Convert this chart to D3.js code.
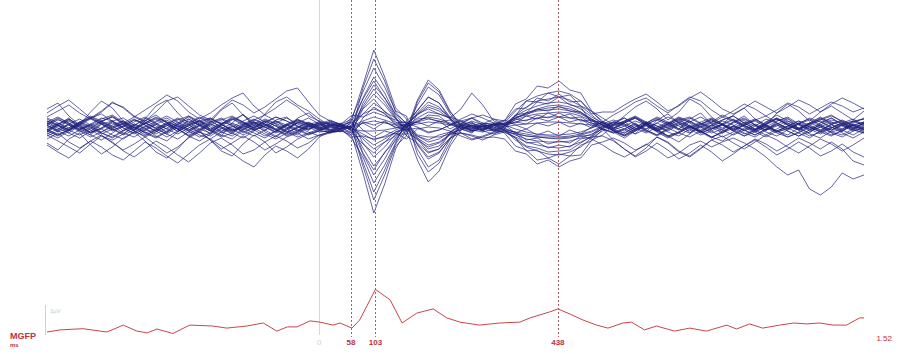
<!DOCTYPE html>
<html>
<head>
<meta charset="utf-8">
<script src="https://cdn.jsdelivr.net/npm/d3@7"></script>
<style>
  html, body { margin: 0; padding: 0; background: #fff; }
  svg { display: block; font-family: "Liberation Sans", Arial, sans-serif; }
</style>
</head>
<body>
<div id="chart"></div>
<script>
// Sample grid of the EEG traces (ms), one sample every 20 ms
const times = d3.range(-500, 1001, 20);

// Channel traces (µV, positive up)
const ch01 = [0.4,-0.3,0.8,0.2,-0.6,0.5,1.1,0.3,-0.4,0.6, 1.2,0.4,-0.5,0.8,0.1,-0.7,0.3,1.0,0.5,-0.2, 0.6,0.1,-0.6,0.9,1.4,0.5,
  -0.5,-0.4,0.8,4.2,7.7,5.0,1.9,0.8,-2.7,-4.5, -3.6,-1.6,0.3,0.5,-0.3,0.2,-0.3,-1.1,-2.4,-2.3, -3.1,-2.7,-2.9,-1.8,-1.4,-0.2,0.3,
  0.9,0.2,-0.5,0.7,1.3,0.4,-0.6,0.2,0.8,-0.3, 0.5,1.1,0.2,-0.4,0.6,0.9,-0.2,0.4,1.0,0.3, -0.5,0.6,0.8];
const ch02 = [-0.5,0.2,0.9,-0.1,-0.8,0.3,0.6,-0.4,0.1,0.9, 0.3,-0.6,0.2,1.1,0.6,-0.3,-0.9,0.4,1.3,0.2, -0.4,0.7,1.0,0.1,-0.3,0.6,
  -0.3,0.1,-0.3,3.9,6.8,4.6,1.5,0.3,-2.2,-4.0, -3.3,-1.2,0.1,0.6,0.2,-0.4,-0.5,-1.1,-1.9,-2.1, -2.5,-2.4,-2.3,-1.6,-0.9,-0.1,0.5,
  0.2,-0.7,0.4,1.0,0.5,-0.2,0.8,1.4,0.3,-0.5, 0.1,0.7,-0.3,0.5,1.2,0.6,-0.1,-0.6,0.4,0.9, 0.2,-0.3,0.5];
const ch03 = [1.8,2.4,1.1,0.2,1.5,2.6,1.9,0.6,-0.3,0.8, 2.1,2.7,1.4,0.3,-0.6,0.5,1.7,2.4,1.2,0.1, 1.3,2.5,3.0,2.2,1.6,0.8,
  0.1,-0.2,1.0,3.5,5.9,4.0,1.6,1.1,-1.8,-3.2, -2.6,-1.1,0.3,0.9,0.4,-0.2,-0.6,-1.9,-2.3,-3.3, -3.1,-3.7,-2.9,-2.8,-1.3,-0.8,0.2,
  1.1,2.0,2.6,1.8,0.7,1.5,2.8,2.2,1.0,0.3, 1.2,1.9,0.8,0.2,1.4,2.3,1.6,0.6,1.5,2.1, 1.4,0.7,1.6];
const ch04 = [-0.2,-0.8,-0.3,0.5,0.1,-0.6,-1.1,-0.4,0.3,-0.1, -0.9,-1.4,-0.5,0.2,0.7,-0.2,-0.8,-1.2,-0.3,0.4, -0.5,-1.0,-0.3,0.5,0.2,-0.3,
  -0.6,-0.4,0.1,2.9,5.0,3.4,1.2,0.0,-1.7,-3.0, -2.5,-1.2,-0.3,0.2,-0.4,-0.7,-0.3,-0.8,-1.2,-1.4, -1.5,-1.5,-1.4,-1.1,-0.7,-0.2,-0.5,
  -1.1,-0.4,0.3,-0.2,-0.9,-1.5,-0.7,0.1,-0.4,-1.0, -0.5,0.2,-0.3,-0.8,-0.2,0.4,-0.1,-0.7,-1.1,-0.4, 0.2,-0.3,-0.6];
const ch05 = [-1.6,-2.3,-1.2,-0.6,-1.8,-2.7,-2.0,-1.1,-0.5,-1.4, -2.5,-3.1,-2.2,-1.0,-0.4,-1.3,-2.4,-2.9,-1.7,-0.8, -1.5,-2.6,-2.0,-1.2,-0.7,-0.4,
  -0.5,-0.3,-0.6,2.4,4.2,2.9,1.0,-0.9,-1.6,-2.6, -2.2,-1.1,-0.6,-0.9,-1.3,-0.8,-0.5,-1.0,-1.5,-1.8, -2.0,-2.1,-1.9,-1.5,-1.0,-0.9,-1.4,
  -2.2,-2.9,-2.1,-1.0,-1.6,-2.5,-3.0,-2.2,-1.3,-0.9, -1.6,-2.2,-1.5,-0.8,-1.3,-2.0,-2.6,-1.9,-1.2,-1.7, -2.4,-1.8,-1.1];
const ch06 = [0.6,0.1,-0.4,0.3,0.9,0.4,-0.2,-0.7,0.2,0.7, 0.1,-0.5,0.4,1.0,0.3,-0.3,0.5,0.2,-0.6,-0.1, 0.7,0.3,-0.4,-0.8,0.1,0.4,
  0.0,-0.2,0.1,1.9,3.3,2.2,0.8,0.0,-0.9,-1.5, -1.2,-0.5,0.1,0.4,0.0,-0.3,-0.2,-0.5,-0.7,-0.9, -0.9,-1.0,-0.9,-0.7,-0.4,0.1,0.5,
  0.3,-0.3,0.2,0.8,0.4,-0.2,-0.6,0.1,0.6,0.2, -0.4,0.3,0.7,0.1,-0.5,-0.2,0.4,0.8,0.2,-0.3, 0.3,0.6,0.1];
const ch07 = [-0.7,-0.2,0.3,-0.4,-1.0,-0.5,0.2,0.6,-0.1,-0.8, -0.3,0.4,-0.2,-0.9,-0.4,0.3,-0.1,-0.7,0.2,0.5, -0.3,-0.9,-0.2,0.4,0.0,-0.5,
  -0.4,-0.1,0.0,1.3,2.4,1.6,0.5,-0.1,-1.1,-1.8, -1.5,-0.7,-0.1,0.2,-0.2,-0.4,0.0,0.2,0.3,0.4, 0.5,0.5,0.4,0.3,0.2,-0.2,-0.6,
  -0.2,0.4,-0.3,-0.8,-0.1,0.5,0.1,-0.6,-0.2,0.3, -0.4,-0.9,-0.3,0.2,-0.5,0.1,0.6,0.0,-0.5,-0.1, 0.4,-0.2,-0.6];
const ch08 = [1.0,1.6,2.2,1.4,0.8,1.5,2.4,2.0,1.1,0.6, 1.5,2.6,3.0,2.1,1.2,0.7,1.8,2.7,2.2,1.4, 2.0,2.8,3.6,3.9,2.5,1.2,
  0.6,0.3,1.2,1.0,1.5,1.1,0.7,0.4,0.0,-0.5, -0.3,0.2,0.8,1.3,0.9,0.4,0.2,-0.2,-0.5,-0.7, -0.8,-0.8,-0.7,-0.5,-0.1,0.5,1.2,
  1.8,2.5,2.9,2.1,1.4,2.2,3.0,2.6,1.7,1.0, 1.6,2.3,1.8,1.1,1.7,2.4,2.0,1.3,1.9,2.5, 2.1,1.5,1.9];
const ch09 = [0.2,0.7,0.3,-0.3,0.1,0.6,1.0,0.4,-0.2,0.3, 0.8,0.2,-0.4,0.1,0.6,0.9,0.3,-0.3,0.0,0.5, 0.2,-0.5,0.1,0.6,0.3,-0.1,
  0.2,0.1,0.0,0.4,0.6,0.4,0.2,0.1,0.3,0.5, 0.4,0.2,0.0,-0.2,0.1,0.3,0.2,0.5,0.7,0.9, 1.0,1.0,0.9,0.7,0.4,0.1,-0.3,
  0.1,0.6,0.2,-0.4,0.0,0.5,0.9,0.3,-0.2,0.2, 0.7,0.1,-0.3,0.4,0.8,0.2,-0.2,0.3,0.6,0.0, -0.4,0.2,0.5];
const ch10 = [-0.3,0.2,-0.6,-1.1,-0.4,0.3,-0.2,-0.8,-0.3,0.4, -0.1,-0.7,-1.2,-0.5,0.2,-0.4,-1.0,-0.6,0.1,-0.3, -0.9,-0.4,0.3,-0.2,-0.7,-0.3,
  0.0,-0.1,-0.2,-0.4,-0.4,-0.3,-0.1,0.1,0.5,0.8, 0.6,0.3,-0.1,-0.4,-0.2,0.1,0.3,0.9,1.4,1.7, 1.9,2.0,1.8,1.4,0.8,0.2,-0.4,
  -0.8,-0.2,0.4,-0.3,-0.9,-0.5,0.2,-0.4,-1.0,-0.6, 0.1,-0.3,-0.8,-0.2,0.3,-0.4,-0.9,-0.3,0.2,-0.5, -0.8,-0.2,0.1];
const ch11 = [0.5,-0.1,-0.6,0.2,0.8,0.3,-0.4,0.1,0.7,0.2, -0.5,0.3,0.9,0.5,-0.2,-0.6,0.2,0.8,0.4,-0.3, 0.1,0.6,0.2,-0.4,0.3,0.5,
  0.2,0.0,-0.1,-0.7,-1.3,-0.9,-0.3,0.1,0.9,1.5, 1.3,0.9,1.8,3.4,2.2,0.6,0.2,0.7,1.1,1.3, 1.4,1.5,1.4,1.1,0.6,0.2,-0.2,
  0.4,0.9,0.3,-0.3,0.2,0.7,0.1,-0.5,0.0,0.6, 0.2,-0.4,0.1,0.8,0.4,-0.2,0.3,0.7,0.1,-0.3, 0.2,0.6,0.3];
const ch12 = [-0.4,0.3,0.8,0.1,-0.5,-0.1,0.6,0.9,0.2,-0.4, 0.3,0.7,0.0,-0.6,-0.2,0.5,0.9,0.3,-0.3,0.2, 0.8,0.4,-0.2,-0.6,0.0,0.4,
  0.4,0.1,-0.1,-1.2,-2.2,-1.5,-0.5,0.0,0.6,1.0, 0.8,0.4,0.0,-0.2,0.1,0.2,0.3,1.1,1.7,2.1, 2.4,2.5,2.3,1.8,1.0,0.4,-0.1,
  0.5,0.9,0.2,-0.4,0.1,0.7,1.0,0.4,-0.2,0.3, 0.8,0.2,-0.5,0.0,0.6,1.0,0.3,-0.3,0.2,0.7, 0.4,-0.1,0.3];
const ch13 = [1.4,2.1,2.7,1.8,0.9,1.6,2.5,1.9,1.0,1.7, 2.4,3.2,2.6,1.5,0.8,1.4,2.2,2.9,3.4,2.1, 1.2,1.9,2.7,2.0,1.1,0.6,
  0.3,0.1,0.6,-1.6,-3.0,-2.0,-0.7,-0.7,1.3,2.2, 1.8,1.0,0.6,0.9,1.2,0.8,0.6,1.8,1.9,2.9, 2.6,3.3,2.5,2.6,1.3,1.5,1.5,
  2.2,2.8,3.3,2.5,1.6,2.1,2.9,3.5,2.7,1.8, 1.3,1.9,2.6,2.0,1.4,2.0,2.7,2.2,1.5,2.3, 2.9,2.4,1.8];
const ch14 = [-0.6,-1.1,-0.4,0.2,-0.3,-0.9,-1.3,-0.7,0.0,-0.5, -1.0,-0.4,0.3,-0.2,-0.8,-1.2,-0.5,0.1,-0.4,-0.9, -0.3,0.2,-0.5,-1.0,-0.6,-0.2,
  0.1,0.2,-0.1,-2.1,-3.9,-2.6,-1.0,0.0,1.4,2.5, 2.0,0.8,0.0,-0.3,-0.5,-0.2,0.1,0.8,1.4,1.8, 2.1,2.2,2.0,1.5,0.8,0.2,-0.4,
  -0.9,-0.3,0.2,-0.4,-1.0,-0.6,0.0,-0.5,-1.1,-0.4, 0.1,-0.6,-1.0,-0.3,0.2,-0.4,-0.9,-0.5,0.0,-0.6, -1.0,-0.4,-0.1];
const ch15 = [0.3,0.8,0.2,-0.5,-0.1,0.6,1.0,0.3,-0.3,0.4, 0.9,0.5,-0.2,0.3,0.9,0.4,-0.4,0.0,0.6,1.1, 0.5,-0.2,0.3,0.8,0.2,-0.1,
  0.3,0.2,-0.2,-2.7,-4.8,-3.2,-1.2,0.0,1.7,3.0, 2.4,1.0,0.2,-0.1,0.3,0.4,0.3,1.1,2.6,2.5, 3.4,3.0,3.2,2.1,1.6,0.4,0.1,
  0.6,1.0,0.4,-0.2,0.3,0.9,0.5,-0.1,0.4,1.0, 0.6,0.0,-0.4,0.2,0.8,0.3,-0.2,0.4,0.9,0.5, 0.1,0.5,0.8];
const ch16 = [-1.8,-2.5,-3.1,-2.2,-1.4,-2.0,-2.8,-3.3,-2.4,-1.5, -2.1,-2.9,-3.6,-2.7,-1.8,-1.2,-1.9,-2.6,-3.4,-4.0, -2.8,-1.9,-2.4,-3.1,-2.2,-1.0,
  -0.4,-0.2,-1.2,-3.0,-5.6,-3.8,-1.6,0.6,1.6,3.0, 2.4,0.8,-0.6,-1.2,-0.9,-0.5,-0.2,1.2,1.4,2.5, 2.3,3.0,2.2,2.0,0.4,-0.2,-1.3,
  -2.2,-3.0,-2.4,-1.6,-2.3,-3.2,-2.6,-1.8,-2.5,-3.4, -2.7,-1.9,-1.3,-2.0,-2.8,-2.2,-1.5,-2.1,-2.9,-2.4, -1.7,-2.5,-3.0];
const ch17 = [-0.1,0.4,-0.3,-0.8,-0.2,0.5,0.1,-0.6,-1.0,-0.3, 0.3,-0.2,-0.7,-0.1,0.6,0.2,-0.5,-0.9,-0.2,0.4, 0.0,-0.6,-0.2,0.5,0.1,-0.3,
  0.0,0.1,-0.3,-3.5,-6.5,-4.3,-1.7,-0.1,2.2,4.0, 3.2,1.3,0.1,-0.3,0.0,0.3,0.4,1.6,2.6,3.1, 3.4,3.6,3.3,2.6,1.5,0.6,0.0,
  -0.4,0.2,-0.3,-0.8,-0.2,0.4,0.0,-0.6,-0.2,0.3, -0.1,-0.7,-0.3,0.2,-0.4,-0.8,-0.1,0.4,0.0,-0.5, -0.2,0.3,-0.1];
const ch18 = [0.6,0.2,-0.3,0.4,1.0,0.5,-0.1,0.3,0.8,0.2, -0.4,0.1,0.7,1.1,0.4,-0.2,0.3,0.9,0.5,-0.1, 0.4,1.0,0.6,0.0,-0.3,0.2,
  0.4,0.3,-0.2,-3.9,-7.3,-4.8,-1.9,-0.9,2.5,4.4, 3.5,1.5,0.3,0.1,0.4,0.2,0.6,2.3,2.8,4.1, 3.9,4.6,3.7,3.4,1.6,0.9,0.2,
  0.6,1.1,0.5,-0.1,0.4,1.0,0.6,0.0,0.5,1.2, 0.7,0.1,-0.3,0.3,0.9,0.4,-0.2,0.3,0.8,0.3, -0.2,0.4,0.9];
const ch19 = [-0.9,-0.4,0.2,-0.3,-0.8,-1.3,-0.6,0.1,-0.4,-1.0, -0.5,0.2,-0.2,-0.9,-1.4,-0.7,-0.1,-0.6,-1.1,-0.4, 0.2,-0.3,-0.9,-0.5,0.1,-0.2,
  0.2,0.1,-0.9,-4.6,-8.6,-5.7,-2.2,-0.3,2.7,4.7, 3.7,1.6,0.1,-0.4,-0.2,0.0,0.1,1.2,2.0,2.6, 2.8,3.0,2.7,2.1,1.2,0.3,-0.4,
  -0.9,-0.4,0.1,-0.5,-1.1,-0.6,0.0,-0.4,-1.0,-1.4, -0.7,-0.1,-0.5,-1.0,-0.4,0.1,-0.3,-0.9,-0.5,0.0, -0.6,-1.1,-0.5];
const ch20 = [-1.2,-0.6,-1.5,-2.1,-1.4,-0.8,-1.6,-2.3,-1.7,-1.0, -1.8,-2.6,-2.0,-1.1,-0.5,-1.3,-2.2,-1.6,-0.9,-1.5, -2.3,-1.7,-1.0,-0.6,-1.2,-0.8,
  -0.5,-0.4,-0.8,0.9,2.0,1.3,0.4,0.5,-0.8,-1.0, -1.0,-0.7,-0.6,-0.8,-1.1,-1.0,-1.2,-2.4,-2.7,-3.7, -3.3,-4.0,-3.4,-3.1,-1.8,-1.5,-1.1,
  -1.6,-2.3,-1.8,-1.0,-1.5,-2.4,-2.9,-2.1,-1.3,-1.8, -2.5,-1.9,-1.2,-1.7,-2.4,-1.8,-1.1,-1.6,-2.2,-1.5, -2.2,-3.4,-3.8];
const ch21 = [0.1,-0.4,0.3,0.8,0.2,-0.5,0.0,0.6,0.1,-0.6, -0.2,0.5,0.1,-0.3,0.4,0.9,0.3,-0.4,-0.1,0.5, 0.0,-0.5,0.2,0.7,0.3,-0.2,
  -0.2,-0.1,0.1,0.6,1.0,0.7,0.3,0.2,1.2,2.0, 1.6,0.8,0.2,-0.1,0.2,0.0,-0.3,-1.3,-2.0,-2.4, -2.7,-2.8,-2.5,-2.0,-1.1,-0.4,0.2,
  0.5,-0.1,-0.6,0.0,0.5,0.1,-0.4,0.3,0.7,0.2, -0.3,0.2,0.6,0.0,-0.5,-0.1,0.4,0.0,-0.4,0.3, 0.6,0.1,-0.3];
const ch22 = [-0.3,0.3,0.7,0.0,-0.6,-0.2,0.4,-0.1,-0.7,-0.2, 0.5,0.9,0.2,-0.4,0.1,0.6,0.0,-0.5,0.2,0.7, 0.3,-0.3,-0.7,0.0,0.4,0.1,
  0.2,0.0,-0.1,-1.0,-1.8,-1.2,-0.5,-0.2,-1.3,-2.0, -1.6,-0.8,-0.2,0.1,0.0,0.2,0.3,0.9,1.3,1.6, 1.7,1.8,1.6,1.3,0.7,0.2,-0.3,
  -0.6,0.0,0.5,0.1,-0.4,0.2,0.6,0.0,-0.6,-0.2, 0.4,0.8,0.2,-0.3,0.1,0.6,0.2,-0.4,0.0,0.5, 0.1,-0.4,0.0];
const ch23 = [0.2,-0.5,-0.1,0.5,0.9,0.3,-0.3,0.1,0.7,0.4, -0.2,-0.7,0.0,0.6,0.2,-0.4,0.3,0.8,0.2,-0.3, 0.1,0.6,0.0,-0.4,0.2,0.3,
  -0.3,-0.2,0.2,2.1,3.8,2.5,0.9,-0.3,-3.3,-5.5, -4.4,-1.9,-0.3,0.2,0.0,-0.2,-0.1,-0.6,-0.9,-1.0, -1.1,-1.2,-1.1,-0.8,-0.5,0.0,0.4,
  0.1,-0.4,0.3,0.7,0.2,-0.3,0.0,0.5,0.9,0.3, -0.2,0.4,0.8,0.2,-0.4,0.1,0.6,0.2,-0.3,0.3, 0.7,0.2,-0.2];
const ch24 = [-0.8,-1.4,-2.0,-2.6,-1.7,-0.9,-1.5,-2.4,-3.0,-2.2, -1.4,-2.0,-2.8,-3.5,-2.6,-1.6,-1.1,-1.8,-2.7,-2.3, -1.5,-0.9,-1.4,-2.1,-1.6,-0.8,
  -0.5,-0.3,-1.0,-0.9,-1.2,-1.0,-0.6,-1.2,-0.2,0.0, -0.1,-0.4,-0.9,-1.3,-1.0,-0.6,-0.4,-0.7,-0.9,-1.0, -1.1,-1.1,-1.0,-0.9,-1.2,-1.8,-2.5,
  -3.0,-2.4,-1.7,-2.3,-3.1,-2.6,-1.8,-1.4,-2.0,-1.5, -1.1,-1.6,-2.2,-3.0,-4.0,-4.8,-4.3,-6.2,-6.8,-6.0, -4.6,-5.2,-4.8];
const ch25 = [0.5,1.0,0.4,-0.2,0.3,0.9,0.6,-0.1,-0.6,0.0, 0.6,1.1,0.5,-0.3,0.2,0.8,0.3,-0.4,0.1,0.7, 1.2,0.6,-0.1,0.4,0.9,0.3,
  -0.3,-0.5,0.6,2.8,4.6,2.9,1.3,0.4,-1.1,-2.2, -1.9,-0.6,0.2,-0.4,0.3,0.8,0.2,-0.6,-0.2,-0.8, -0.4,-0.9,-0.3,-0.7,0.0,0.5,-0.2,
  0.4,0.9,0.2,-0.4,0.3,0.8,0.1,-0.5,0.2,0.7, 1.1,0.4,-0.2,0.5,0.9,0.2,-0.3,0.3,0.8,1.2, 0.5,-0.1,0.4];
const ch26 = [-0.3,-0.8,-0.2,0.4,0.0,-0.6,-1.0,-0.3,0.3,-0.2, -0.7,-0.1,0.5,0.0,-0.5,-0.9,-0.2,0.4,-0.1,-0.6, -1.1,-0.4,0.2,-0.3,-0.8,-0.4,
  0.1,0.4,-0.5,-1.7,-2.6,-1.5,-0.9,0.3,1.3,1.8, 1.3,0.9,-0.2,-0.6,0.3,-0.1,0.4,0.4,1.1,0.8, 1.4,1.0,1.3,0.6,0.7,-0.2,-0.6,
  -0.2,0.3,-0.4,-0.9,-0.3,0.3,-0.2,-0.8,-0.4,0.2, -0.3,-0.9,-0.5,0.1,-0.4,-1.0,-0.6,0.0,-0.5,-0.9, -0.3,0.2,-0.4];
const ch27 = [0.8,0.2,-0.3,0.3,0.9,1.3,0.6,0.0,0.5,1.0, 0.4,-0.2,0.3,0.8,0.2,-0.4,0.1,0.7,1.2,0.5, -0.1,0.4,0.9,0.3,-0.2,0.2,
  0.5,0.0,-0.6,0.5,0.2,0.6,-0.1,0.3,-0.9,-1.3, -0.8,-0.5,0.3,0.0,-0.4,0.2,-0.3,-0.5,-1.3,-1.1, -1.7,-1.4,-1.6,-0.9,-0.8,0.1,0.5,
  0.9,0.3,-0.2,0.4,1.0,0.5,-0.1,0.3,0.8,0.2, -0.3,0.2,0.7,1.1,0.4,-0.2,0.3,0.9,0.5,-0.1, 0.4,0.8,0.2];
const ch28 = [-0.5,0.1,0.6,0.0,-0.6,-0.1,0.5,0.2,-0.4,-0.9, -0.3,0.3,-0.2,-0.8,-0.3,0.4,0.8,0.1,-0.5,0.0, 0.6,0.1,-0.5,-0.1,0.5,0.0,
  -0.4,0.3,0.8,-0.3,-1.0,-0.4,-0.7,0.2,0.5,0.1, 0.6,-0.2,0.4,0.9,0.2,-0.4,0.1,0.5,0.3,0.9, 0.6,1.0,0.5,0.8,0.1,0.5,-0.2,
  -0.6,0.0,0.5,0.1,-0.5,-0.9,-0.2,0.4,0.0,-0.6, -0.1,0.5,0.1,-0.5,-0.9,-0.3,0.3,-0.2,-0.7,-0.1, 0.4,0.0,-0.5];
const ch29 = [0.2,-0.4,-0.9,-0.3,0.3,-0.2,-0.8,-1.2,-0.5,0.1, -0.4,-1.0,-0.4,0.2,0.6,0.0,-0.6,-0.2,0.4,-0.1, -0.7,-1.2,-0.6,0.0,-0.5,-0.9,
  -0.6,0.2,-0.4,1.8,2.8,1.5,0.9,-0.5,-1.2,-2.5, -2.2,-0.6,-0.3,0.4,-0.2,0.3,-0.1,0.8,0.6,1.2, 0.9,1.4,0.9,1.0,0.3,0.4,-0.3,
  -0.8,-0.2,0.3,-0.3,-0.9,-0.5,0.1,-0.4,-1.0,-0.5, 0.1,-0.3,-0.8,-0.2,0.4,-0.1,-0.6,-1.1,-0.4,0.2, -0.3,-0.8,-0.2];
const ch30 = [0.3,0.9,0.4,-0.2,0.2,0.8,1.2,0.5,-0.1,0.4, 1.0,0.5,-0.2,0.4,1.0,0.6,0.0,-0.4,0.3,0.8, 0.3,-0.3,0.2,0.7,0.4,0.0,
  0.6,0.2,0.5,-2.6,-4.3,-2.5,-1.4,0.4,0.5,1.2, 1.1,0.2,0.6,0.0,-0.4,0.3,0.1,1.0,1.2,1.8, 1.6,2.1,1.6,1.5,0.6,0.5,-0.1,
  0.5,1.0,0.4,-0.2,0.3,0.9,0.4,-0.3,0.2,0.7, 1.1,0.4,-0.2,0.3,0.8,0.2,-0.3,0.2,0.7,1.1, 0.6,0.1,0.5];
const ch31 = [-0.4,-0.9,-0.3,0.3,-0.1,-0.7,-0.2,0.4,0.0,-0.6, -1.1,-0.5,0.1,-0.4,-1.0,-0.6,0.2,-0.2,-0.8,-0.3, 0.3,-0.2,-0.8,-0.4,0.2,-0.1,
  -0.5,-0.2,0.4,1.3,1.8,1.4,0.2,-0.4,0.8,0.9, 0.5,0.7,-0.2,-0.5,0.1,-0.3,-0.4,-0.7,-1.6,-1.5, -2.1,-1.8,-2.0,-1.2,-1.0,-0.1,0.3,
  -0.2,-0.7,-0.2,0.4,-0.1,-0.6,-1.0,-0.4,0.2,-0.3, -0.8,-0.3,0.3,-0.1,-0.6,-1.0,-0.5,0.1,-0.3,-0.8, -0.4,0.2,-0.2];
const ch32 = [0.9,0.4,-0.1,0.5,1.1,0.6,0.0,0.4,1.0,0.5, -0.1,0.3,0.8,0.2,-0.3,0.2,0.7,1.1,0.5,0.0, 0.5,1.0,0.6,0.1,-0.2,0.3,
  0.7,0.2,-0.2,0.4,-0.2,0.5,0.0,-0.3,-0.1,-0.6, -0.3,0.2,0.6,0.1,-0.3,0.3,0.7,0.2,-0.2,0.4, 0.1,0.5,0.0,0.4,-0.1,0.3,0.7,
  0.3,-0.2,0.4,0.9,0.3,-0.2,0.5,1.0,0.4,-0.1, 0.5,0.9,0.2,-0.3,0.3,0.8,0.3,-0.2,0.4,0.9, 0.3,-0.2,0.4];

const channels = [ch01, ch02, ch03, ch04, ch05, ch06, ch07, ch08, ch09, ch10, ch11, ch12, ch13, ch14, ch15, ch16,
  ch17, ch18, ch19, ch20, ch21, ch22, ch23, ch24, ch25, ch26, ch27, ch28, ch29, ch30, ch31, ch32];

// Mean global field power (µV)
const mgfpTimes = [-500, -476, -434, -390, -360, -335, -316, -298, -269, -238, -196, -170, -133, -103, -78, -59, -41, -17,
  1, 25, 38, 60, 74, 103, 130, 152, 179, 209, 234, 258, 294, 331, 368, 387, 405, 423, 438, 460, 484, 509, 530,
  557, 573, 597, 619, 652, 680, 711, 748, 766, 790, 814, 845, 871, 895, 919, 943, 968, 992, 1000];
const mgfpValues = [0.10, 0.17, 0.21, 0.10, 0.33, 0.13, 0.07, 0.20, 0.05, 0.33, 0.30, 0.23, 0.30, 0.40, 0.13, 0.27, 0.27, 0.47,
  0.43, 0.33, 0.40, 0.23, 0.50, 1.52, 1.17, 0.40, 0.73, 0.87, 0.57, 0.43, 0.33, 0.40, 0.43, 0.57, 0.67, 0.77, 0.87, 0.70, 0.50, 0.33, 0.23,
  0.40, 0.43, 0.17, 0.30, 0.13, 0.23, 0.13, 0.33, 0.20, 0.37, 0.23, 0.33, 0.40, 0.37, 0.40, 0.33, 0.33, 0.57, 0.57];

// Marked latencies (ms) and the MGFP peak value
const markers = [58, 103, 438];
const mgfpPeak = '1.52';

const width = 901;
const height = 354;

const svg = d3.select('#chart')
  .append('svg')
  .attr('width', width)
  .attr('height', height);

// Scales
const x = d3.scaleLinear().domain([-500, 1000]).range([47, 864]);
const y = d3.scaleLinear().domain([-10, 10]).range([227, 27]);
const yMgfp = d3.scaleLinear().domain([0, 1]).range([335, 305]);

// Stimulus onset line
svg.append('line')
  .attr('x1', Math.round(x(0)) + 0.5).attr('x2', Math.round(x(0)) + 0.5)
  .attr('y1', 0).attr('y2', 335)
  .attr('stroke', '#d6d6d6')
  .attr('stroke-width', 1);

// Butterfly traces
const line = d3.line()
  .x((d, i) => x(times[i]))
  .y(d => y(d));

svg.append('g')
  .selectAll('path')
  .data(channels)
  .enter()
  .append('path')
  .attr('d', line)
  .attr('fill', 'none')
  .attr('stroke', '#22227f')
  .attr('stroke-opacity', 0.7)
  .attr('stroke-width', 1)
  .attr('stroke-linejoin', 'round');

// Dotted latency markers
svg.append('g')
  .selectAll('line')
  .data(markers)
  .enter()
  .append('line')
  .attr('x1', d => Math.round(x(d)) + 0.5)
  .attr('x2', d => Math.round(x(d)) + 0.5)
  .attr('y1', 0)
  .attr('y2', 337)
  .attr('stroke', '#b05a66')
  .attr('stroke-width', 1)
  .attr('stroke-dasharray', '2,2');

// MGFP scale bar
svg.append('line')
  .attr('x1', 45.5).attr('x2', 45.5)
  .attr('y1', yMgfp(1)).attr('y2', yMgfp(0))
  .attr('stroke', '#d0d0d0');

svg.append('text')
  .attr('x', 50)
  .attr('y', 313)
  .style('font-size', '6px')
  .style('fill', '#c8c8c8')
  .text('1µV');

// MGFP trace
const mgfpLine = d3.line()
  .x((d, i) => x(mgfpTimes[i]))
  .y(d => yMgfp(d));

svg.append('path')
  .datum(mgfpValues)
  .attr('d', mgfpLine)
  .attr('fill', 'none')
  .attr('stroke', '#c8464a')
  .attr('stroke-width', 1);

// Labels
svg.append('text')
  .attr('x', 10)
  .attr('y', 339)
  .style('font-size', '9px')
  .style('font-weight', 'bold')
  .style('fill', '#c0303a')
  .text('MGFP');

svg.append('text')
  .attr('x', 10)
  .attr('y', 347)
  .style('font-size', '6px')
  .style('font-weight', 'bold')
  .style('fill', '#c0303a')
  .text('ms');

svg.append('text')
  .attr('x', x(0))
  .attr('y', 345)
  .attr('text-anchor', 'middle')
  .style('font-size', '8px')
  .style('fill', '#d0d0d0')
  .text('0');

svg.append('g')
  .selectAll('text')
  .data(markers)
  .enter()
  .append('text')
  .attr('x', d => x(d))
  .attr('y', 345)
  .attr('text-anchor', 'middle')
  .style('font-size', '8px')
  .style('font-weight', 'bold')
  .style('fill', '#b8343c')
  .text(d => d);

svg.append('text')
  .attr('x', 892)
  .attr('y', 341)
  .attr('text-anchor', 'end')
  .style('font-size', '8px')
  .style('fill', '#c0303a')
  .text(mgfpPeak);
</script>
</body>
</html>
